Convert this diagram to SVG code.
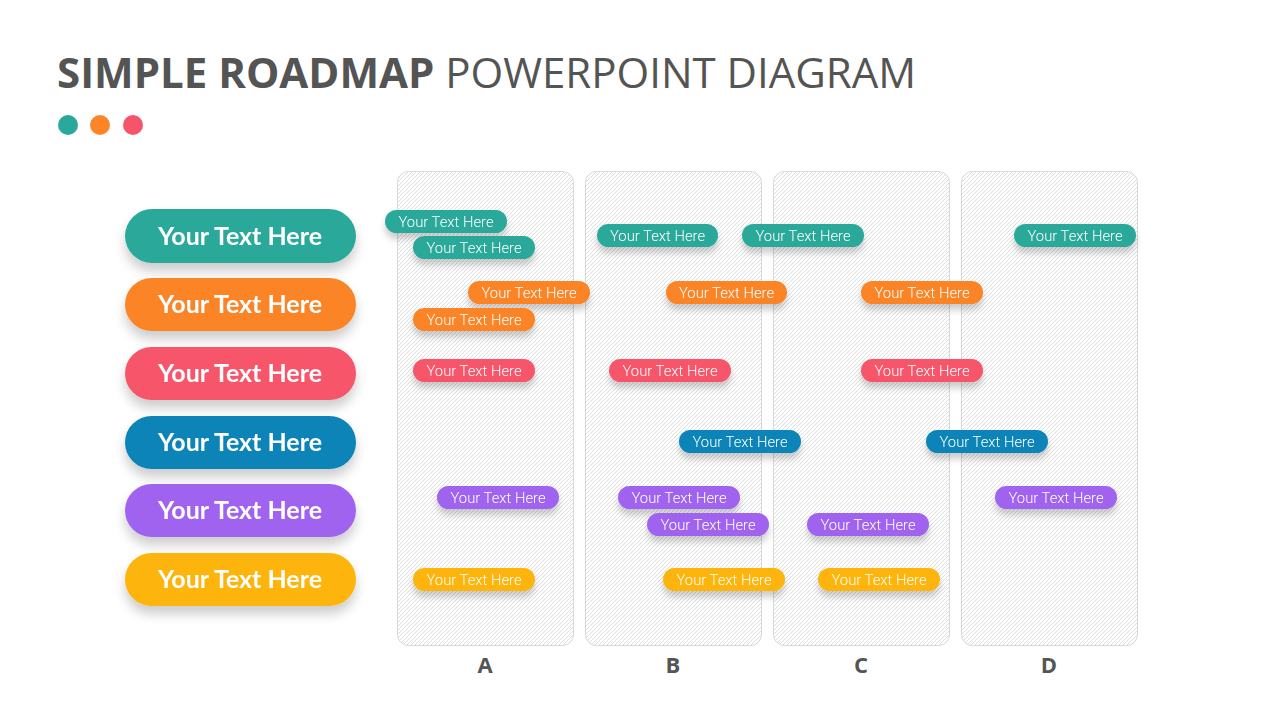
<svg xmlns="http://www.w3.org/2000/svg" width="1280" height="720" viewBox="0 0 1280 720">
<defs>
<pattern id="hatch" width="4" height="4" patternUnits="userSpaceOnUse">
<rect width="4" height="4" fill="#ffffff"/>
<path d="M-1,1 L1,-1 M0,4 L4,0 M3,5 L5,3" stroke="#dadada" stroke-width="0.9"/>
</pattern>
<filter id="sh" x="-20%" y="-50%" width="140%" height="250%">
<feGaussianBlur in="SourceAlpha" stdDeviation="6"/>
<feOffset dy="8" result="b"/>
<feComponentTransfer><feFuncA type="linear" slope="0.2"/></feComponentTransfer>
<feMerge><feMergeNode/><feMergeNode in="SourceGraphic"/></feMerge>
</filter>
<filter id="sh2" x="-20%" y="-60%" width="140%" height="300%">
<feGaussianBlur in="SourceAlpha" stdDeviation="3.5"/>
<feOffset dy="6" result="b"/>
<feComponentTransfer><feFuncA type="linear" slope="0.2"/></feComponentTransfer>
<feMerge><feMergeNode/><feMergeNode in="SourceGraphic"/></feMerge>
</filter>
</defs>
<style>
.title{font-family:"Open Sans","Liberation Sans",sans-serif;font-size:42px;fill:#545454}
.col{fill:url(#hatch);stroke:#d8d8d8;stroke-width:1}
.colLbl{font-family:"Open Sans","Liberation Sans",sans-serif;font-size:22px;font-weight:bold;fill:#555;text-anchor:middle}
.big{font-family:"Lato","Open Sans",sans-serif;font-size:25px;font-weight:bold;fill:#fff;text-anchor:middle}
.sm{font-family:"Roboto","Liberation Sans",sans-serif;font-size:14.8px;font-weight:300;fill:#fff;text-anchor:middle}
.teal{fill:#2aa99b}.orange{fill:#fb8527}.red{fill:#f6546a}.blue{fill:#0a84b8}.purple{fill:#a063ef}.yellow{fill:#fdb40a}
</style>
<rect width="1280" height="720" fill="#ffffff"/>
<g id="title">
<text x="57" y="88" class="title"><tspan font-weight="bold">SIMPLE ROADMAP</tspan> POWERPOINT DIAGRAM</text>
<circle cx="68" cy="125" r="10" class="teal"/>
<circle cx="100" cy="125" r="10" class="orange"/>
<circle cx="133" cy="125" r="10" class="red"/>
</g>
<g id="columns">
<rect x="397.5" y="171.5" width="176" height="474" rx="11" class="col"/>
<rect x="585.5" y="171.5" width="176" height="474" rx="11" class="col"/>
<rect x="773.5" y="171.5" width="176" height="474" rx="11" class="col"/>
<rect x="961.5" y="171.5" width="176" height="474" rx="11" class="col"/>
<text x="485" y="673" class="colLbl">A</text>
<text x="673" y="673" class="colLbl">B</text>
<text x="861" y="673" class="colLbl">C</text>
<text x="1049" y="673" class="colLbl">D</text>
</g>
<g id="rows" filter="url(#sh)">
<g id="row1"><rect x="125" y="209" width="231" height="54" rx="27" class="teal"/><text x="240" y="245" class="big">Your Text Here</text></g>
<g id="row2"><rect x="125" y="278" width="231" height="53" rx="26.5" class="orange"/><text x="240" y="313" class="big">Your Text Here</text></g>
<g id="row3"><rect x="125" y="347" width="231" height="53" rx="26.5" class="red"/><text x="240" y="382" class="big">Your Text Here</text></g>
<g id="row4"><rect x="125" y="416" width="231" height="53" rx="26.5" class="blue"/><text x="240" y="451" class="big">Your Text Here</text></g>
<g id="row5"><rect x="125" y="484" width="231" height="53" rx="26.5" class="purple"/><text x="240" y="519" class="big">Your Text Here</text></g>
<g id="row6"><rect x="125" y="553" width="231" height="53" rx="26.5" class="yellow"/><text x="240" y="588" class="big">Your Text Here</text></g>
</g>
<g id="tasks" filter="url(#sh2)">
<g id="t1"><rect x="385" y="210" width="122" height="23" rx="11.5" class="teal"/><text x="446" y="226.5" class="sm">Your Text Here</text></g>
<g id="t2"><rect x="413" y="236" width="122" height="23" rx="11.5" class="teal"/><text x="474" y="252.5" class="sm">Your Text Here</text></g>
<g id="t3"><rect x="597" y="224" width="121" height="23" rx="11.5" class="teal"/><text x="657.5" y="240.5" class="sm">Your Text Here</text></g>
<g id="t4"><rect x="742" y="224" width="122" height="23" rx="11.5" class="teal"/><text x="803" y="240.5" class="sm">Your Text Here</text></g>
<g id="t5"><rect x="1014" y="224" width="122" height="23" rx="11.5" class="teal"/><text x="1075" y="240.5" class="sm">Your Text Here</text></g>
<g id="t6"><rect x="468" y="281" width="122" height="23" rx="11.5" class="orange"/><text x="529" y="297.5" class="sm">Your Text Here</text></g>
<g id="t7"><rect x="666" y="281" width="121" height="23" rx="11.5" class="orange"/><text x="726.5" y="297.5" class="sm">Your Text Here</text></g>
<g id="t8"><rect x="861" y="281" width="122" height="23" rx="11.5" class="orange"/><text x="922" y="297.5" class="sm">Your Text Here</text></g>
<g id="t9"><rect x="413" y="308" width="122" height="23" rx="11.5" class="orange"/><text x="474" y="324.5" class="sm">Your Text Here</text></g>
<g id="t10"><rect x="413" y="359" width="122" height="23" rx="11.5" class="red"/><text x="474" y="375.5" class="sm">Your Text Here</text></g>
<g id="t11"><rect x="609" y="359" width="122" height="23" rx="11.5" class="red"/><text x="670" y="375.5" class="sm">Your Text Here</text></g>
<g id="t12"><rect x="861" y="359" width="122" height="23" rx="11.5" class="red"/><text x="922" y="375.5" class="sm">Your Text Here</text></g>
<g id="t13"><rect x="679" y="430" width="122" height="23" rx="11.5" class="blue"/><text x="740" y="446.5" class="sm">Your Text Here</text></g>
<g id="t14"><rect x="926" y="430" width="122" height="23" rx="11.5" class="blue"/><text x="987" y="446.5" class="sm">Your Text Here</text></g>
<g id="t15"><rect x="437" y="486" width="122" height="23" rx="11.5" class="purple"/><text x="498" y="502.5" class="sm">Your Text Here</text></g>
<g id="t16"><rect x="618" y="486" width="122" height="23" rx="11.5" class="purple"/><text x="679" y="502.5" class="sm">Your Text Here</text></g>
<g id="t17"><rect x="647" y="513" width="122" height="23" rx="11.5" class="purple"/><text x="708" y="529.5" class="sm">Your Text Here</text></g>
<g id="t18"><rect x="807" y="513" width="122" height="23" rx="11.5" class="purple"/><text x="868" y="529.5" class="sm">Your Text Here</text></g>
<g id="t19"><rect x="995" y="486" width="122" height="23" rx="11.5" class="purple"/><text x="1056" y="502.5" class="sm">Your Text Here</text></g>
<g id="t20"><rect x="413" y="568" width="122" height="23" rx="11.5" class="yellow"/><text x="474" y="584.5" class="sm">Your Text Here</text></g>
<g id="t21"><rect x="663" y="568" width="122" height="23" rx="11.5" class="yellow"/><text x="724" y="584.5" class="sm">Your Text Here</text></g>
<g id="t22"><rect x="818" y="568" width="122" height="23" rx="11.5" class="yellow"/><text x="879" y="584.5" class="sm">Your Text Here</text></g>
</g>
<g id="connectors"/>
</svg>
